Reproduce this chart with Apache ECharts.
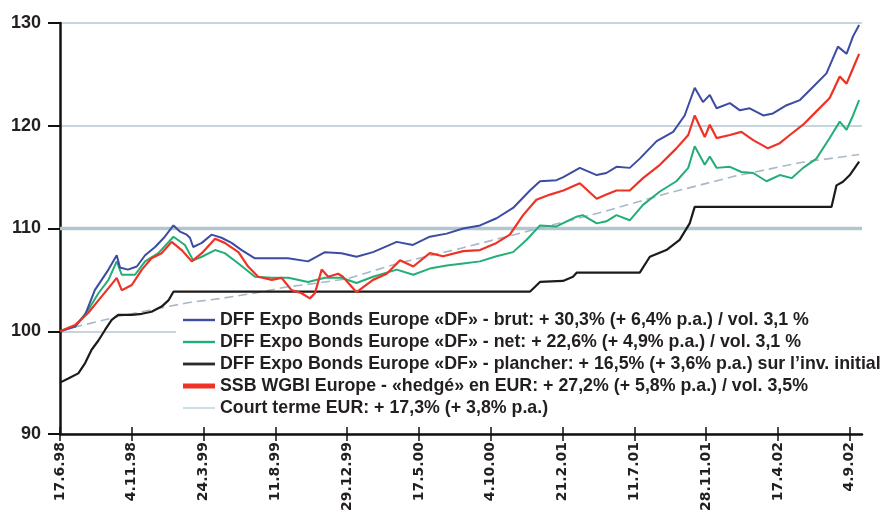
<!DOCTYPE html>
<html>
<head>
<meta charset="utf-8">
<script src="https://cdn.jsdelivr.net/npm/echarts@6/dist/echarts.min.js"></script>
<style>
html,body{margin:0;padding:0;background:#fff;}
#chart{width:895px;height:516px;}
</style>
</head>
<body>
<div id="chart"></div>
<script>
// x = weeks since 17.6.98
const tickWeeks = [0,20,40,60,80,100,120,140,160,180,200,220];
const tickLabels = ['17.6.98','4.11.98','24.3.99','11.8.99','29.12.99','17.5.00','4.10.00','21.2.01','11.7.01','28.11.01','17.4.02','4.9.02'];

const seriesNames = [
  'DFF Expo Bonds Europe «DF» - brut: + 30,3% (+ 6,4% p.a.) / vol. 3,1 %',
  'DFF Expo Bonds Europe «DF» - net: + 22,6% (+ 4,9% p.a.) / vol. 3,1 %',
  'DFF Expo Bonds Europe «DF» - plancher: + 16,5% (+ 3,6% p.a.) sur l’inv. initial',
  'SSB WGBI Europe - «hedgé» en EUR: + 27,2% (+ 5,8% p.a.) / vol. 3,5%',
  'Court terme EUR: + 17,3% (+ 3,8% p.a.)'
];

const blueWeeks = [0,4.2,7,9.7,11.6,13.5,15.8,16.7,18.9,21.4,23.7,26.5,29.2,31.6,33.4,35.3,36.2,37.1,39.5,42.2,45,47.8,50.6,54.3,59,63.5,69.1,73.8,78.4,82.6,87.2,93.8,98.3,103,107.7,112.3,117,121.6,126.2,130.9,133.7,138.3,140.2,144.8,149.5,152.2,155,158.7,161.5,166.2,170.8,174,176.8,179.1,181,182.9,186.6,189.4,192.1,195.9,198.6,202.4,206.1,209.8,213.5,216.7,219.1,220.9,222.6];
const blueValues = [100,100.45,101.6,104,105,106,107.4,106.2,106,106.3,107.4,108.2,109.2,110.3,109.7,109.4,109.1,108.2,108.6,109.4,109.1,108.6,107.9,107.1,107.1,107.1,106.8,107.7,107.6,107.25,107.7,108.7,108.4,109.2,109.5,110,110.3,111,112,113.7,114.6,114.7,115,115.9,115.2,115.4,116,115.9,116.8,118.5,119.4,121,123.7,122.3,123,121.7,122.2,121.5,121.7,121,121.2,122,122.5,123.8,125.1,127.7,127,128.7,129.8];

const greenWeeks = [0,4.2,7.9,10.7,13.5,15.8,17.2,20.9,23.7,27.4,31.6,34.8,37.1,39.5,43.2,45.9,49.7,54.3,59,63.6,69.1,73.8,78.4,82.6,87.2,93.8,98.4,103,107.7,112.3,117,121.6,126.2,130,133.7,138.3,143.9,145.6,149.5,152.2,155,158.7,162.4,167.1,171.7,175,176.8,179.6,181,182.9,186.6,189.8,193.1,196.8,200.5,203.8,207,210.7,214.4,217.2,219.1,220.9,222.6];
const greenValues = [100,100.45,102.1,103.7,105,106.8,105.5,105.5,106.8,107.6,109.2,108.4,106.9,107.25,107.9,107.6,106.6,105.3,105.2,105.2,104.8,105.2,105.2,104.7,105.3,106,105.5,106.1,106.4,106.6,106.8,107.3,107.7,108.9,110.3,110.2,111.15,111.3,110.5,110.7,111.3,110.8,112.3,113.6,114.6,115.9,118,116.2,117,115.9,116,115.5,115.4,114.6,115.2,114.9,115.9,116.8,118.8,120.4,119.6,121,122.5];

const redWeeks = [0,4.2,7.9,10.7,13.5,15.8,17.2,20,22.8,25.5,28.3,31.1,33.9,36.7,39.5,43.2,45.9,49.7,52.4,55.2,59,61.7,64.5,67.3,69.6,71,72.9,74.7,77.5,78.8,82.6,87.2,91,94.7,98.4,103,106.7,112.3,117,121.6,125.3,129,132.7,136.5,140.2,144.8,149.5,152.2,155,158.7,162.4,167.1,171.7,175,176.8,179.6,181,182.9,186.6,189.8,193.1,197.2,200.5,203.3,207,210.7,214.4,217.2,219.1,220.9,222.6];
const redValues = [100,100.6,101.8,103,104.2,105.2,104,104.5,106,107.1,107.6,108.7,107.9,106.8,107.6,109,108.6,107.7,106.3,105.3,105,105.2,104,103.7,103.2,103.7,106,105.3,105.6,105.3,103.8,105,105.6,106.9,106.3,107.6,107.3,107.8,107.9,108.6,109.4,111.3,112.8,113.3,113.7,114.4,112.9,113.3,113.7,113.7,114.9,116.2,117.8,119.1,121,118.9,120.1,118.8,119.1,119.4,118.6,117.8,118.3,119.1,120.1,121.4,122.7,124.8,124.1,125.6,127];

const floorWeeks = [0,2.3,5.1,7,8.8,10.7,12.5,14.4,16.2,20,22.8,25.5,28.3,30.2,31.6,130.9,133.7,140.1,142.9,143.9,161.5,164.3,168.9,172.6,175.4,176.8,214.9,216.3,218.1,220,222.6];
const floorValues = [95,95.4,95.9,96.9,98.2,99.1,100.1,101.1,101.6,101.6,101.7,101.9,102.4,103,103.85,103.85,104.8,104.9,105.3,105.7,105.7,107.25,107.9,108.9,110.5,112.1,112.1,114.2,114.55,115.2,116.5];

const shortWeeks = [0,4,10,17,27,36,45,54,63,72,80,94,112,131,150,169,188,206,222.6];
const shortValues = [100,100.4,100.9,101.5,102.2,102.8,103.2,103.7,104.3,104.7,105.1,106.6,108.1,109.8,111.5,113.4,115.1,116.4,117.2];

const yTicks = [90,100,110,120,130];
const emphasisLevel = 110;

const pairs = (xs, ys) => xs.map((x, i) => [x, ys[i]]);

const colors = ['#3b4ca2', '#23ae78', '#1b1b1b', '#ee3226', '#a9b8c6'];
const legendColors = ['#3b4ca2', '#23ae78', '#2a2a2a', '#ee3226', '#cfdfe7'];
const iconPaths = [
  'path://M0,0H32V2.4H0Z',
  'path://M0,0H32V2.4H0Z',
  'path://M0,0H32V2.8H0Z',
  'path://M0,0H32V5H0Z',
  'path://M0,0H32V2.2H0Z'
];

const X_MAX = 223.4;
const legendFont = '"Liberation Sans", Arial, sans-serif';
const axisFont = '"DejaVu Sans", sans-serif';

const chart = echarts.init(document.getElementById('chart'), null, {renderer: 'canvas'});
chart.setOption({
  animation: false,
  backgroundColor: '#ffffff',
  grid: {left: 60, top: 23, right: 33, bottom: 82, containLabel: false},
  xAxis: [{
    type: 'value', min: 0, max: X_MAX,
    axisLine: {show: true, onZero: false, lineStyle: {color: '#111', width: 2.5}},
    axisTick: {show: true, inside: false, length: 7, lineStyle: {color: '#111', width: 1.5}, customValues: tickWeeks},
    axisLabel: {
      show: true, rotate: 90, margin: 8, customValues: tickWeeks,
      fontFamily: axisFont, fontWeight: 'bold', fontSize: 14, color: '#231f20',
      formatter: v => { const i = tickWeeks.indexOf(Math.round(v)); return i >= 0 ? tickLabels[i] : ''; }
    },
    splitLine: {show: false}
  }, {
    type: 'value', min: 0, max: X_MAX, position: 'bottom',
    axisLine: {show: false},
    axisTick: {show: true, inside: true, length: 7, lineStyle: {color: '#111', width: 1.5}, customValues: tickWeeks},
    axisLabel: {show: false},
    splitLine: {show: false}
  }],
  yAxis: {
    type: 'value', min: 90, max: 130, interval: 10,
    axisLine: {show: true, onZero: false, lineStyle: {color: '#111', width: 2.5}},
    axisTick: {show: true, length: 12, lineStyle: {color: '#111', width: 2}},
    axisLabel: {margin: 19, fontFamily: legendFont, fontWeight: 'bold', fontSize: 18, color: '#231f20',
      formatter: v => yTicks.indexOf(v) >= 0 ? String(v) : ''},
    splitLine: {show: true, lineStyle: {color: '#c6d4db', width: 2}}
  },
  legend: {
    orient: 'vertical', left: 176, top: 306,
    backgroundColor: '#ffffff', padding: [5, 12, 5, 7],
    itemGap: 4, itemWidth: 32, itemHeight: 8,
    selectedMode: false,
    textStyle: {fontFamily: legendFont, fontWeight: 'bold', fontSize: 17.8, color: '#231f20', lineHeight: 18},
    data: seriesNames.map((n, i) => ({name: n, icon: iconPaths[i], itemStyle: {color: legendColors[i], borderWidth: 0}}))
  },
  series: [
    {name: 'ref110', type: 'line', z: 1, silent: true, symbol: 'none', data: [[0, emphasisLevel], [X_MAX, emphasisLevel]],
      lineStyle: {color: '#b3c5cd', width: 3.5}},
    {name: seriesNames[4], type: 'line', z: 2, symbol: 'none', data: pairs(shortWeeks, shortValues),
      color: colors[4], lineStyle: {color: colors[4], width: 1.6, type: [9, 5]}},
    {name: seriesNames[2], type: 'line', z: 3, symbol: 'none', data: pairs(floorWeeks, floorValues),
      color: colors[2], lineStyle: {color: colors[2], width: 2.2}},
    {name: seriesNames[1], type: 'line', z: 3, symbol: 'none', data: pairs(greenWeeks, greenValues),
      color: colors[1], lineStyle: {color: colors[1], width: 2}},
    {name: seriesNames[0], type: 'line', z: 3, symbol: 'none', data: pairs(blueWeeks, blueValues),
      color: colors[0], lineStyle: {color: colors[0], width: 2}},
    {name: seriesNames[3], type: 'line', z: 3, symbol: 'none', data: pairs(redWeeks, redValues),
      color: colors[3], lineStyle: {color: colors[3], width: 2.2}}
  ]
});
</script>
</body>
</html>
